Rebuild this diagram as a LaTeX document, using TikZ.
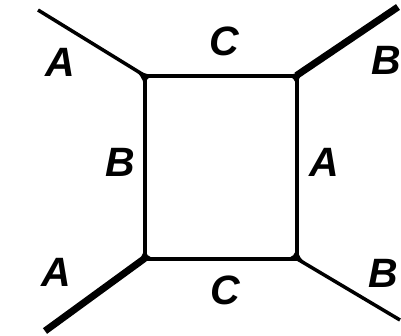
\documentclass[tikz,border=0pt]{standalone}
\usepackage{fontspec}
\setmainfont{Liberation Sans}
\usetikzlibrary{calc}
\tikzset{
  side/.style={line width=4pt},
  thinleg/.style={line width=3.5pt},
  thickleg/.style={line width=7pt},
  lab/.style={inner sep=0pt, font=\fontsize{41}{44}\selectfont\bfseries\itshape}
}
\newcommand{\junction}[4]{%
  \fill ($(#1)!38pt!(#2)$) .. controls (#1) .. ($(#1)!26pt!(#3)$)
        .. controls (#1) .. ($(#1)!26pt!(#4)$)
        .. controls (#1) .. ($(#1)!38pt!(#2)$) -- cycle;}
\begin{document}
\begin{tikzpicture}[x=1pt,y=-1pt]
\useasboundingbox (0,0) rectangle (401,335);
\fill[white] (0,0) rectangle (401,335);
% corners
\coordinate (tl) at (144.5,75.5);
\coordinate (tr) at (296.5,75.5);
\coordinate (bl) at (144.5,258.5);
\coordinate (br) at (296.5,258.5);
% leg ends
\coordinate (tle) at (38,10);
\coordinate (tre) at (398,7);
\coordinate (ble) at (45,331);
\coordinate (bre) at (400,320);
% square
\draw[side] (tl) -- (tr) -- (br) -- (bl) -- cycle;
% legs
\draw[thinleg] (tl) -- (tle);
\draw[thickleg] (tr) -- (tre);
\draw[thickleg] (bl) -- (ble);
\draw[thinleg] (br) -- (bre);
% junction fillets
\junction{tl}{tle}{tr}{bl}
\junction{tr}{tre}{tl}{br}
\junction{bl}{ble}{tl}{br}
\junction{br}{bre}{tr}{bl}
% labels
\node[lab] (a1) at (60,62) {A};
\node[lab] (c1) at (224,41) {C};
\node[lab] (b1) at (386,60) {B};
\node[lab] (b2) at (120,162) {B};
\node[lab] (a2) at (324,162) {A};
\node[lab] (a3) at (56,272) {A};
\node[lab] (c2) at (225,290) {C};
\node[lab] (b3) at (383,273) {B};
\end{tikzpicture}
\end{document}
